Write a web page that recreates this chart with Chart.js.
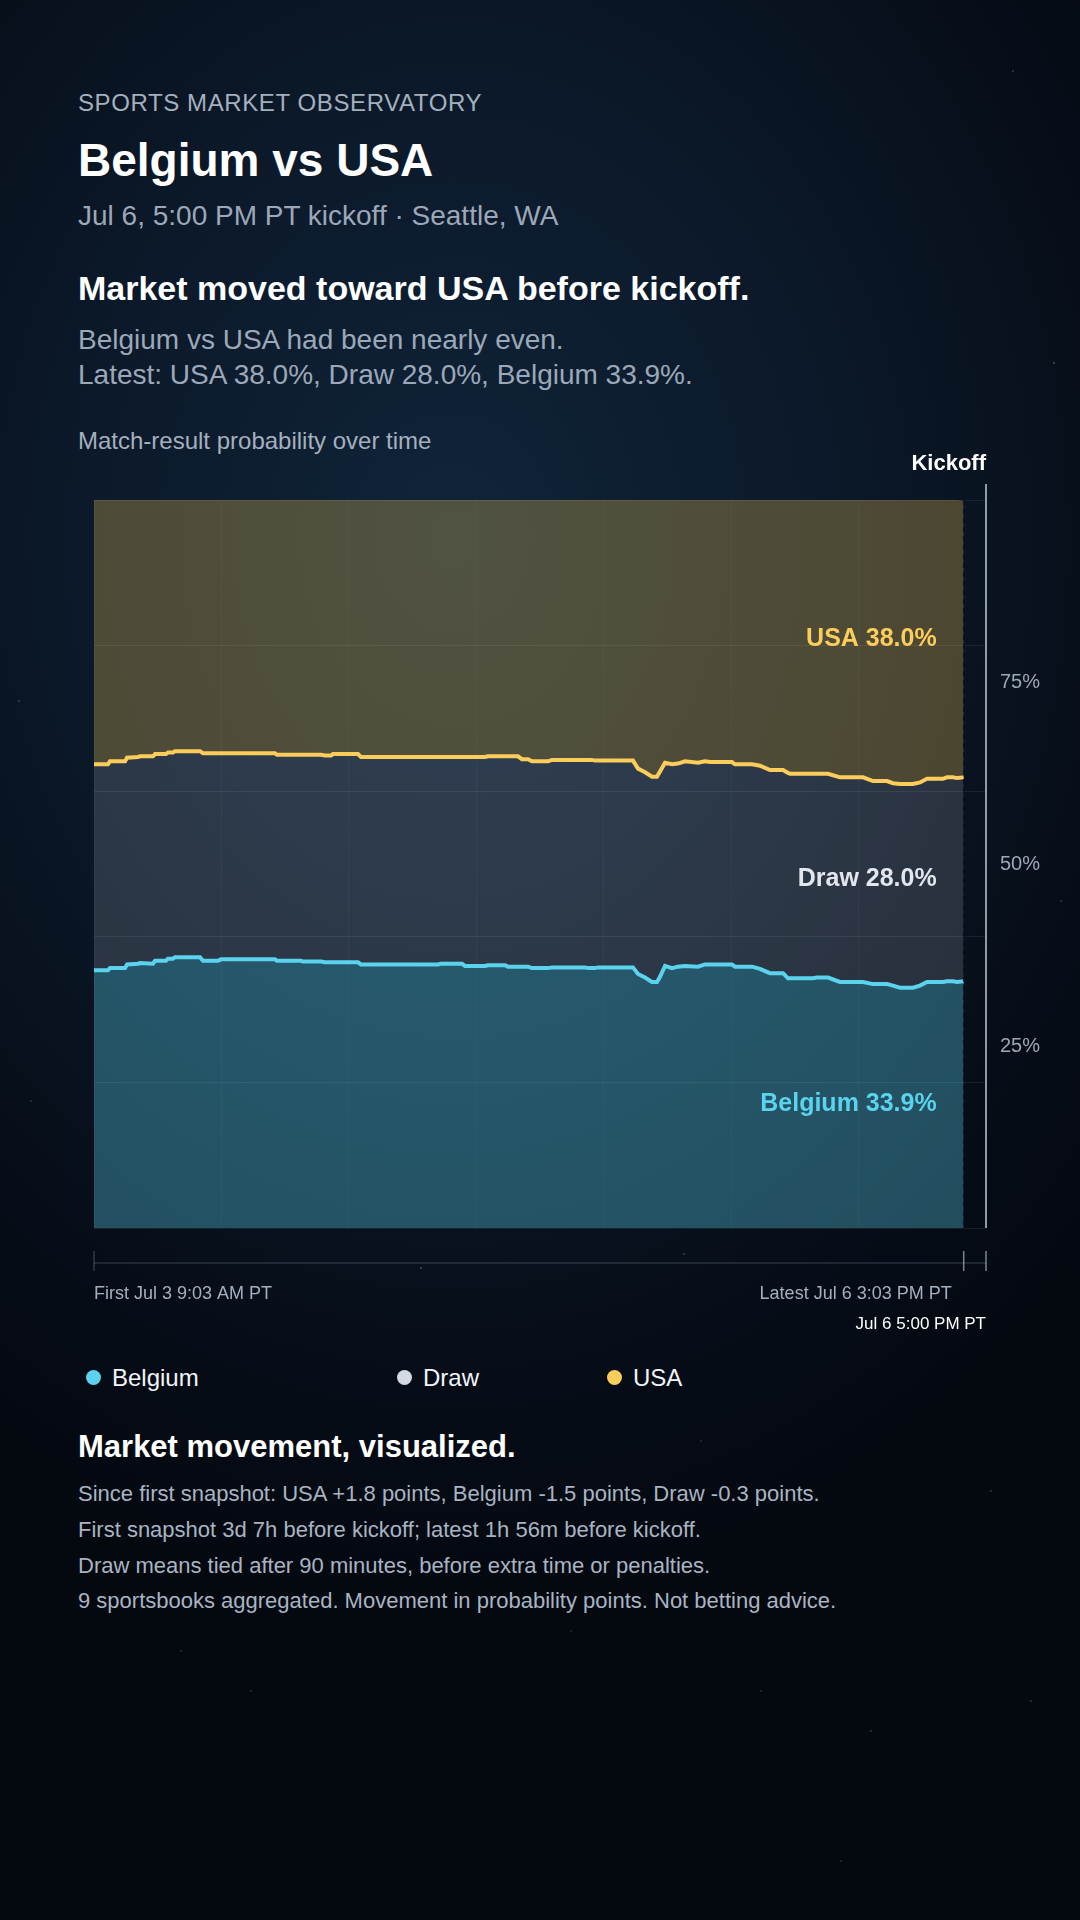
<!DOCTYPE html>
<html>
<head>
<meta charset="utf-8">
<title>Belgium vs USA</title>
<script src="https://cdn.jsdelivr.net/npm/chart.js@4"></script>
<style>
    html, body {
        margin: 0;
        padding: 0;
    }
    body {
        width: 1080px;
        height: 1920px;
        position: relative;
        overflow: hidden;
        font-family: "Liberation Sans", Arial, Helvetica, sans-serif;
        background: radial-gradient(ellipse 900px 1100px at 42% 28%, #10243a 0%, #0b1828 45%, #060c16 80%, #04080f 100%);
    }
    .txt {
        position: absolute;
        left: 78px;
        line-height: 1;
        white-space: nowrap;
    }
    .stars {
        position: absolute;
        left: 0;
        top: 0;
        width: 2px;
        height: 2px;
        border-radius: 50%;
        background: transparent;
        box-shadow: 1053px 362px rgba(255,255,255,0.25), 1012px 70px rgba(255,255,255,0.2),
            18px 700px rgba(255,255,255,0.2), 420px 1267px rgba(255,255,255,0.25),
            683px 1253px rgba(255,255,255,0.2), 1030px 1700px rgba(255,255,255,0.18),
            870px 1730px rgba(255,255,255,0.18), 760px 1690px rgba(255,255,255,0.15),
            570px 1630px rgba(255,255,255,0.15), 250px 1690px rgba(255,255,255,0.15),
            990px 1490px rgba(255,255,255,0.18), 180px 1650px rgba(255,255,255,0.15),
            1060px 900px rgba(255,255,255,0.18), 30px 1100px rgba(255,255,255,0.15),
            700px 1440px rgba(255,255,255,0.15), 840px 1860px rgba(255,255,255,0.15);
    }
    #chart-box {
        position: absolute;
        left: 0;
        top: 420px;
        width: 1080px;
        height: 920px;
    }
    .legend-item {
        position: absolute;
        top: 1366px;
        font-size: 24px;
        line-height: 24px;
        color: #f1f5f9;
        white-space: nowrap;
    }
    .dot {
        display: inline-block;
        width: 15px;
        height: 15px;
        border-radius: 50%;
        margin-right: 11px;
        vertical-align: 1px;
    }
</style>
</head>
<body>
<div class="stars"></div>

<div class="txt" style="top:91px; font-size:24px; color:#a5b0bf; letter-spacing:0.6px;">SPORTS MARKET OBSERVATORY</div>
<div class="txt" style="top:137px; font-size:46px; font-weight:bold; color:#ffffff;">Belgium vs USA</div>
<div class="txt" style="top:202px; font-size:28px; color:#9ca8b8;">Jul 6, 5:00 PM PT kickoff · Seattle, WA</div>
<div class="txt" style="top:271px; font-size:34px; font-weight:bold; color:#ffffff;">Market moved toward USA before kickoff.</div>
<div class="txt" style="top:326px; font-size:28px; color:#9ca8b8;">Belgium vs USA had been nearly even.</div>
<div class="txt" style="top:361px; font-size:28px; color:#9ca8b8;">Latest: USA 38.0%, Draw 28.0%, Belgium 33.9%.</div>
<div class="txt" style="top:429px; font-size:24px; color:#a5b0bf;">Match-result probability over time</div>

<div id="chart-box">
    <canvas id="odds-chart" width="1080" height="920"></canvas>
</div>

<div class="legend-item" style="left:86px;"><span class="dot" style="background:#5bd3ee;"></span>Belgium</div>
<div class="legend-item" style="left:397px;"><span class="dot" style="background:#d5d9e2;"></span>Draw</div>
<div class="legend-item" style="left:607px;"><span class="dot" style="background:#fdcd5b;"></span>USA</div>

<div class="txt" style="top:1431px; font-size:31px; font-weight:bold; color:#ffffff;">Market movement, visualized.</div>
<div class="txt" style="top:1483px; font-size:22px; color:#a9b4c3;">Since first snapshot: USA +1.8 points, Belgium -1.5 points, Draw -0.3 points.</div>
<div class="txt" style="top:1519px; font-size:22px; color:#a9b4c3;">First snapshot 3d 7h before kickoff; latest 1h 56m before kickoff.</div>
<div class="txt" style="top:1555px; font-size:22px; color:#a9b4c3;">Draw means tied after 90 minutes, before extra time or penalties.</div>
<div class="txt" style="top:1590px; font-size:22px; color:#a9b4c3;">9 sportsbooks aggregated. Movement in probability points. Not betting advice.</div>

<script>
// hours since the first snapshot (Jul 3 9:03 AM PT)
const hours = [0, 1.25, 1.43, 2.78, 2.96, 3.94, 4.12, 5.29, 5.47, 6.45, 6.63, 7.08, 7.26, 9.50, 9.77,
    11.11, 11.38, 16.22, 16.40, 18.55, 18.73, 20.35, 20.70, 21.24, 21.42, 23.66, 23.93, 30.83, 31.10,
    32.98, 33.25, 35.05, 35.31, 36.84, 37.11, 38.00, 38.36, 38.90, 39.26, 40.69, 41.05, 44.01, 44.28,
    44.64, 44.90, 45.17, 48.31, 48.76, 49.39, 50.01, 50.46, 50.73, 51.18, 51.81, 52.34, 52.97, 54.14,
    54.76, 55.21, 57.18, 57.45, 58.98, 59.69, 60.59, 61.76, 62.20, 62.38, 64.44, 64.80, 65.79, 66.86,
    68.93, 69.82, 71.08, 71.61, 72.24, 73.41, 74.03, 74.66, 76.09, 76.45, 76.99, 77.35, 77.95];

const belgium = [35.4, 35.4, 35.7, 35.7, 36.2, 36.3, 36.4, 36.3, 36.7, 36.7, 37.0, 37.0, 37.2, 37.2, 36.7,
    36.7, 36.9, 36.9, 36.7, 36.7, 36.6, 36.6, 36.5, 36.5, 36.5, 36.5, 36.2, 36.2, 36.3,
    36.3, 36.0, 36.0, 36.1, 36.1, 35.9, 35.9, 35.9, 35.9, 35.7, 35.7, 35.8, 35.8, 35.7,
    35.7, 35.7, 35.8, 35.8, 34.9, 34.4, 33.8, 33.8, 34.5, 36.0, 35.7, 35.9, 36.0, 35.9,
    36.2, 36.2, 36.2, 35.9, 35.9, 35.6, 35.0, 35.0, 34.3, 34.3, 34.3, 34.4, 34.4, 33.8,
    33.8, 33.5, 33.5, 33.3, 33.0, 33.0, 33.3, 33.8, 33.8, 33.9, 33.9, 33.8, 33.9];

const draw = [28.3, 28.3, 28.4, 28.4, 28.4, 28.4, 28.4, 28.5, 28.4, 28.4, 28.3, 28.3, 28.3, 28.3, 28.5,
    28.5, 28.3, 28.3, 28.3, 28.3, 28.4, 28.4, 28.4, 28.4, 28.6, 28.6, 28.5, 28.5, 28.4,
    28.4, 28.7, 28.7, 28.7, 28.7, 28.9, 28.9, 28.5, 28.5, 28.4, 28.4, 28.5, 28.5, 28.6,
    28.6, 28.5, 28.4, 28.4, 28.2, 28.2, 28.2, 28.2, 28.2, 27.9, 28.0, 27.9, 28.1, 28.0,
    27.9, 27.8, 27.8, 27.8, 27.8, 27.9, 27.9, 27.9, 28.2, 28.1, 28.1, 28.0, 28.0, 28.1,
    28.1, 27.9, 27.9, 27.8, 28.0, 28.0, 27.9, 27.9, 27.9, 28.0, 28.0, 28.0, 28.0];

const usa = [36.3, 36.3, 35.9, 35.9, 35.4, 35.3, 35.2, 35.2, 34.9, 34.9, 34.7, 34.7, 34.5, 34.5, 34.8,
    34.8, 34.8, 34.8, 35.0, 35.0, 35.0, 35.0, 35.1, 35.1, 34.9, 34.9, 35.3, 35.3, 35.3,
    35.3, 35.3, 35.3, 35.2, 35.2, 35.2, 35.2, 35.6, 35.6, 35.9, 35.9, 35.7, 35.7, 35.7,
    35.7, 35.8, 35.8, 35.8, 36.9, 37.4, 38.0, 38.0, 37.3, 36.1, 36.3, 36.2, 35.9, 36.1,
    35.9, 36.0, 36.0, 36.3, 36.3, 36.5, 37.1, 37.1, 37.5, 37.6, 37.6, 37.6, 37.6, 38.1,
    38.1, 38.6, 38.6, 38.9, 39.0, 39.0, 38.8, 38.3, 38.3, 38.1, 38.1, 38.2, 38.0];

// kickoff Jul 6 5:00 PM PT, in hours since first snapshot
const kickoffHours = 79.95;
const yLabelTicks = [25, 50, 75];
const firstLabel = 'First Jul 3 9:03 AM PT';
const latestLabel = 'Latest Jul 6 3:03 PM PT';
const kickoffLabel = 'Jul 6 5:00 PM PT';

const FONT = '"Liberation Sans", Arial, Helvetica, sans-serif';
const colors = {
    belgium: '#5bd3ee',
    draw: '#e2e6ee',
    usa: '#fdcd5b'
};

function toPoints(values) {
    return values.map((v, i) => ({ x: hours[i], y: v }));
}

// vertical marker lines, bottom timeline and end labels
const kickoffMarks = {
    id: 'kickoffMarks',
    afterDatasetsDraw(chart) {
        const { ctx, chartArea, scales } = chart;
        const x = scales.x;
        const y = scales.y;
        const n = hours.length - 1;
        const xFirst = x.getPixelForValue(hours[0]);
        const xLatest = x.getPixelForValue(hours[n]);
        const xKick = x.getPixelForValue(kickoffHours);

        ctx.save();

        // dashed line at latest snapshot
        ctx.setLineDash([5, 4]);
        ctx.strokeStyle = 'rgba(8, 15, 28, 0.75)';
        ctx.lineWidth = 1.5;
        ctx.beginPath();
        ctx.moveTo(xLatest, chartArea.top);
        ctx.lineTo(xLatest, chartArea.bottom);
        ctx.stroke();
        ctx.setLineDash([]);

        // kickoff line
        ctx.strokeStyle = 'rgba(190, 200, 214, 0.75)';
        ctx.lineWidth = 2;
        ctx.beginPath();
        ctx.moveTo(xKick, chartArea.top - 16);
        ctx.lineTo(xKick, chartArea.bottom);
        ctx.stroke();

        ctx.fillStyle = '#ffffff';
        ctx.font = 'bold 22px ' + FONT;
        ctx.textAlign = 'right';
        ctx.textBaseline = 'middle';
        ctx.fillText('Kickoff', xKick, chartArea.top - 36);

        // timeline strip under the plot
        const lineY = chartArea.bottom + 35;
        ctx.strokeStyle = 'rgba(148, 163, 184, 0.18)';
        ctx.lineWidth = 2;
        ctx.beginPath();
        ctx.moveTo(xFirst, lineY);
        ctx.lineTo(xKick, lineY);
        ctx.stroke();

        ctx.lineWidth = 1.5;
        ctx.strokeStyle = 'rgba(148, 163, 184, 0.3)';
        ctx.beginPath();
        ctx.moveTo(xFirst, lineY - 12);
        ctx.lineTo(xFirst, lineY + 8);
        ctx.stroke();
        ctx.strokeStyle = 'rgba(203, 213, 225, 0.6)';
        [xLatest, xKick].forEach(px => {
            ctx.beginPath();
            ctx.moveTo(px, lineY - 12);
            ctx.lineTo(px, lineY + 8);
            ctx.stroke();
        });

        ctx.font = '18px ' + FONT;
        ctx.fillStyle = '#a5b0bf';
        ctx.textAlign = 'left';
        ctx.fillText(firstLabel, xFirst, chartArea.bottom + 66);
        ctx.textAlign = 'right';
        ctx.fillText(latestLabel, xLatest - 12, chartArea.bottom + 66);
        ctx.fillStyle = '#ffffff';
        ctx.font = '17px ' + FONT;
        ctx.fillText(kickoffLabel, xKick, chartArea.bottom + 96);

        // end labels in the middle of each band
        const b = belgium[n], d = draw[n], u = usa[n];
        ctx.font = 'bold 25px ' + FONT;
        ctx.textAlign = 'right';
        ctx.fillStyle = colors.usa;
        ctx.fillText('USA ' + u.toFixed(1) + '%', xLatest - 27, y.getPixelForValue(b + d + u / 2));
        ctx.fillStyle = colors.draw;
        ctx.fillText('Draw ' + d.toFixed(1) + '%', xLatest - 27, y.getPixelForValue(b + d / 2));
        ctx.fillStyle = colors.belgium;
        ctx.fillText('Belgium ' + b.toFixed(1) + '%', xLatest - 27, y.getPixelForValue(b / 2));

        ctx.restore();
    }
};

const ctx = document.getElementById('odds-chart').getContext('2d');

new Chart(ctx, {
    type: 'line',
    data: {
        datasets: [{
            label: 'Belgium',
            data: toPoints(belgium),
            fill: 'origin',
            backgroundColor: 'rgba(91, 211, 238, 0.34)',
            borderColor: colors.belgium,
            borderWidth: 4,
            pointRadius: 0,
            tension: 0
        }, {
            label: 'Draw',
            data: toPoints(draw),
            fill: '-1',
            backgroundColor: 'rgba(209, 213, 224, 0.17)',
            borderColor: colors.usa,
            borderWidth: 4,
            pointRadius: 0,
            tension: 0
        }, {
            label: 'USA',
            data: toPoints(usa),
            fill: '-1',
            backgroundColor: 'rgba(253, 205, 91, 0.28)',
            borderWidth: 0,
            pointRadius: 0,
            tension: 0
        }]
    },
    options: {
        responsive: false,
        animation: false,
        layout: {
            padding: { left: 94, top: 80, right: 0, bottom: 0 }
        },
        plugins: {
            legend: { display: false },
            tooltip: { enabled: false }
        },
        scales: {
            x: {
                type: 'linear',
                min: 0,
                max: kickoffHours,
                ticks: { display: false },
                grid: { color: 'rgba(148, 163, 184, 0.06)', drawTicks: false },
                border: { display: false },
                afterBuildTicks: s => {
                    s.ticks = [0, 1, 2, 3, 4, 5, 6, 7].map(i => ({ value: i * kickoffHours / 7 }));
                },
                afterFit: s => { s.height = 112; }
            },
            y: {
                stacked: true,
                position: 'left',
                min: 0,
                max: 100,
                ticks: { display: false, stepSize: 20 },
                grid: { color: 'rgba(148, 163, 184, 0.12)', drawTicks: false },
                border: { display: false },
                afterFit: s => { s.width = 0; }
            },
            y2: {
                position: 'right',
                min: 0,
                max: 100,
                grid: { display: false, drawTicks: false },
                border: { display: false },
                ticks: {
                    color: '#9ca8b8',
                    font: { size: 20, family: FONT },
                    padding: 14,
                    callback: v => v + '%'
                },
                afterBuildTicks: s => {
                    s.ticks = yLabelTicks.map(v => ({ value: v }));
                },
                afterFit: s => { s.width = 94; }
            }
        }
    },
    plugins: [kickoffMarks]
});
</script>
</body>
</html>
